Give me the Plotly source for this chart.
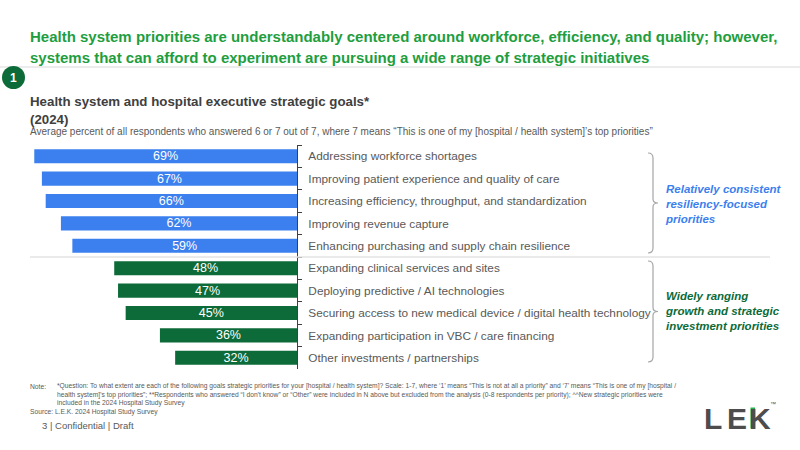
import plotly.graph_objects as go

categories = [
    "Addressing workforce shortages",
    "Improving patient experience and quality of care",
    "Increasing efficiency, throughput, and standardization",
    "Improving revenue capture",
    "Enhancing purchasing and supply chain resilience",
    "Expanding clinical services and sites",
    "Deploying predictive / AI technologies",
    "Securing access to new medical device / digital health technology",
    "Expanding participation in VBC / care financing",
    "Other investments / partnerships",
]
values = [69, 67, 66, 62, 59, 48, 47, 45, 36, 32]
groups = ["resiliency"] * 5 + ["growth"] * 5
group_colors = {"resiliency": "#3B80EE", "growth": "#0C6B38"}
group_labels = {
    "resiliency": "Relatively consistent<br>resiliency-focused<br>priorities",
    "growth": "Widely ranging<br>growth and strategic<br>investment priorities",
}
group_text_colors = {"resiliency": "#3B80EE", "growth": "#0C6B38"}

W, H = 800, 450
def px(x):
    return x / W
def py(y):
    return 1 - y / H

REG = "Liberation Sans, Arial, sans-serif"

fig = go.Figure()
fig.add_trace(go.Bar(
    orientation="h",
    x=values,
    y=categories,
    marker=dict(color=[group_colors[g] for g in groups], line=dict(width=0)),
    text=[f"{v}%" for v in values],
    textposition="inside",
    insidetextanchor="middle",
    constraintext="none",
    textangle=0,
    textfont=dict(color="white", size=12.5, family=REG),
    width=0.63,
    hoverinfo="skip",
))

fig.update_layout(
    width=W, height=H,
    margin=dict(l=0, r=0, t=0, b=0),
    paper_bgcolor="white", plot_bgcolor="white",
    showlegend=False,
    font=dict(family=REG, color="#404040"),
    xaxis=dict(domain=[0, px(297)], range=[78, 0], visible=False, fixedrange=True),
    yaxis=dict(
        domain=[py(369), py(145)],
        autorange="reversed",
        side="right",
        showline=True, linecolor="#404040", linewidth=1,
        ticks="outside", tickson="boundaries", ticklen=4, tickcolor="#404040",
        tickfont=dict(size=11.8, color="#595959", family=REG),
        ticklabelstandoff=8,
        showgrid=False,
    ),
    bargap=0.37,
)

shapes = []
shapes.append(dict(type="line", xref="paper", yref="paper", x0=0, x1=1, y0=py(67), y1=py(67),
                   line=dict(color="#E6E6E6", width=1.5)))
shapes.append(dict(type="line", xref="paper", yref="paper", x0=px(30), x1=px(770), y0=py(257), y1=py(257),
                   line=dict(color="#E3E3E3", width=1.5)))
shapes.append(dict(type="circle", xref="paper", yref="paper", x0=px(2), x1=px(25), y0=py(89), y1=py(66),
                   fillcolor="#0C6B38", line=dict(width=0)))

def brace(top, bot, xl=648, xr=653, tip=658):
    mid = (top + bot) / 2
    pts = [
        f"M {px(xl)},{py(top)}",
        f"Q {px(xr)},{py(top)} {px(xr)},{py(top+5)}",
        f"L {px(xr)},{py(mid-4)}",
        f"Q {px(xr)},{py(mid)} {px(tip)},{py(mid)}",
        f"Q {px(xr)},{py(mid)} {px(xr)},{py(mid+4)}",
        f"L {px(xr)},{py(bot-5)}",
        f"Q {px(xr)},{py(bot)} {px(xl)},{py(bot)}",
    ]
    return dict(type="path", xref="paper", yref="paper", path=" ".join(pts),
                line=dict(color="#A6A6A6", width=1.2))

shapes.append(brace(153, 253))
shapes.append(brace(261, 362))

ann = []
def text(x, y, s, size, color, family=REG, xanchor="left", yanchor="middle", align="left"):
    ann.append(dict(xref="paper", yref="paper", x=px(x), y=py(y), text=s, showarrow=False,
                    xanchor=xanchor, yanchor=yanchor, align=align,
                    font=dict(size=size, color=color, family=family)))

text(28, 37, "<b>Health system priorities are understandably centered around workforce, efficiency, and quality; however,</b>", 15, "#1E9E3E")
text(28, 57, "<b>systems that can afford to experiment are pursuing a wide range of strategic initiatives</b>", 15, "#1E9E3E")
text(13.5, 77.5, "<b>1</b>", 12, "white", xanchor="center")
text(28, 101, "<b>Health system and hospital executive strategic goals*</b>", 13.3, "#404040")
text(28, 119, "<b>(2024)</b>", 13.3, "#404040")
text(28, 131.5, "Average percent of all respondents who answered 6 or 7 out of 7, where 7 means “This is one of my [hospital / health system]’s top priorities”",
     10, "#595959")

text(663, 204, "<b><i>" + group_labels["resiliency"] + "</i></b>", 11.5, group_text_colors["resiliency"])
text(663, 311, "<b><i>" + group_labels["growth"] + "</i></b>", 11.5, group_text_colors["growth"])

note_lines = [
    "*Question: To what extent are each of the following goals strategic priorities for your [hospital / health system]? Scale: 1-7, where ‘1’ means “This is not at all a priority” and ‘7’ means “This is one of my [hospital /",
    "health system]’s top priorities”; **Respondents who answered “I don’t know” or “Other” were included in N above but excluded from the analysis (0-8 respondents per priority); ^^New strategic priorities were",
    "included in the 2024 Hospital Study Survey",
]
text(28, 386, "Note:", 6.7, "#595959")
for i, line in enumerate(note_lines):
    text(55, 386 + i * 8.6, line, 6.7, "#595959")
text(28, 411.5, "Source: L.E.K. 2024 Hospital Study Survey", 6.7, "#595959")
text(40, 425, "3 | Confidential | Draft", 9.5, "#595959")

# logo
text(702, 418, "<b>L</b>", 30, "#4D4D4D")
text(725, 418, "<b>E</b>", 30, "#4D4D4D")
text(747, 418, "<b>K</b>", 30, "#4D4D4D")
text(768, 404, "™", 6, "#4D4D4D")
shapes.append(dict(type="rect", xref="paper", yref="paper", x0=px(750.5), x1=px(755), y0=py(428.5), y1=py(407.5),
                   fillcolor="#1FB54A", line=dict(width=0), layer="above"))
fig.update_layout(shapes=shapes, annotations=ann)

fig.write_html("out.html")
